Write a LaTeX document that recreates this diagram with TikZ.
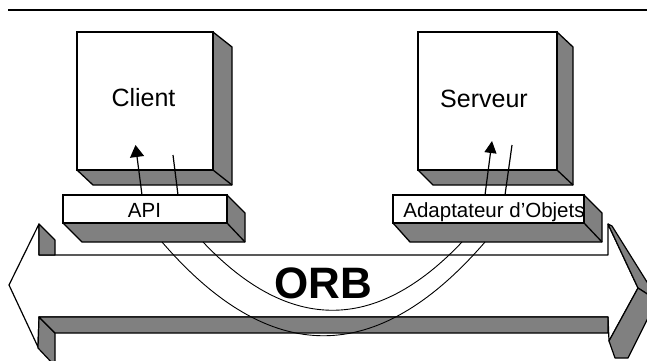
\documentclass[tikz,border=0pt]{standalone}
\usepackage{fontspec}
\setmainfont{Liberation Sans}
\usetikzlibrary{arrows.meta}
\begin{document}
\begin{tikzpicture}[x=1pt,y=-1pt,
  boxface/.style={fill=white,draw=black,line width=1.3pt,inner sep=0pt,outer sep=0pt},
  boxshade/.style={fill=gray,draw=black,line width=1.3pt,line join=round},
  orbface/.style={fill=white,draw=black,line width=1.2pt,line join=round},
  orbshade/.style={fill=gray,draw=black,line width=1.2pt,line join=round},
  wire/.style={draw=black,line width=1.2pt},
  sagline/.style={draw=black,line width=0.9pt},
  smalllbl/.style={anchor=base,inner sep=0pt,font=\fontsize{20.5}{24}\selectfont},
  biglbl/.style={anchor=base,inner sep=0pt,font=\fontsize{25}{30}\selectfont},
  orblbl/.style={anchor=base,inner sep=0pt,font=\fontsize{44}{50}\selectfont\bfseries}
]
\useasboundingbox (0,0) rectangle (647,360);
\begin{scope}
\clip (0,0) rectangle (647,360);
% top rule
\draw[line width=1.2pt] (8,10) -- (647,10);
% ORB double arrow
\draw[orbface] (39,255) -- (39,224) -- (9,285) -- (38,347) -- (39,317) -- (608,317) -- (609,341) -- (638,288) -- (608,224) -- (608,255) -- cycle;
\draw[orbshade] (39,224) -- (55,240) -- (55,255) -- (39,255) -- cycle;
\draw[orbshade] (39,317) -- (55,333) -- (55,366) -- (38,348) -- cycle;
\draw[orbshade] (39,317) -- (608,317) -- (608,333) -- (55,333) -- cycle;
\draw[orbshade] (608,224) -- (612,226) -- (652,290) -- (652,297) -- (638,288) -- cycle;
\draw[orbshade] (638,288) -- (652,297) -- (652,310) -- (628,358) -- (615,358) -- (609,341) -- cycle;
\end{scope}
\node[orblbl] (orb) at (323.5,298) {ORB};

% Client box
\draw[boxshade] (213,32) -- (232,47) -- (232,185) -- (93,185) -- (77,170) -- (213,170) -- cycle;
\draw[line width=1.3pt] (213,170) -- (232,185);
\node[boxface,minimum width=136pt,minimum height=138pt] (client) at (145,101) {};
\node[biglbl] (clientlbl) at (143.5,106) {Client};

% Serveur box
\draw[boxshade] (557,32) -- (573,47) -- (573,185) -- (433,185) -- (418,170) -- (557,170) -- cycle;
\draw[line width=1.3pt] (557,170) -- (573,185);
\node[boxface,minimum width=139pt,minimum height=138pt] (serveur) at (487.5,101) {};
\node[biglbl] (serveurlbl) at (484,107) {Serveur};

% API box
\draw[boxshade] (227,195) -- (245,213) -- (245,242) -- (82,242) -- (63,223) -- (227,223) -- cycle;
\draw[line width=1.3pt] (227,223) -- (245,242);
\node[boxface,minimum width=164pt,minimum height=28pt] (api) at (145,209) {};
\node[smalllbl] (apilbl) at (144.5,217) {API};

% Adaptateur box
\draw[boxshade] (584,195) -- (602,213) -- (602,242) -- (410,242) -- (393,223) -- (584,223) -- cycle;
\draw[line width=1.3pt] (584,223) -- (602,242);
\node[boxface,minimum width=191pt,minimum height=28pt] (adapt) at (488.5,209) {};
\node[smalllbl] (adaptlbl) at (494,217) {Adaptateur d'Objets};

% connectors API -> Client
\coordinate (ca1) at (142,195); \coordinate (cc1) at (135.5,145);
\coordinate (ca2) at (178,195); \coordinate (cc2) at (173,155);
\draw[wire,-{Triangle[width=14pt,length=12pt]}] (ca1) -- (cc1);
\draw[wire] (ca2) -- (cc2);
% connectors Adaptateur -> Serveur
\coordinate (sa1) at (485,195); \coordinate (ss1) at (492,141);
\coordinate (sa2) at (505,195); \coordinate (ss2) at (512,145);
\draw[wire,-{Triangle[width=12pt,length=12pt]}] (sa1) -- (ss1);
\draw[wire] (sa2) -- (ss2);

% ORB curves
\coordinate (ao) at (162,242); \coordinate (bo) at (485,242);
\coordinate (ai) at (203,242); \coordinate (bi) at (462,242);
\draw[sagline] (ao) .. controls (270,367) and (377,367) .. (bo);
\draw[sagline] (ai) .. controls (289,333) and (376,333) .. (bi);
\end{tikzpicture}
\end{document}
